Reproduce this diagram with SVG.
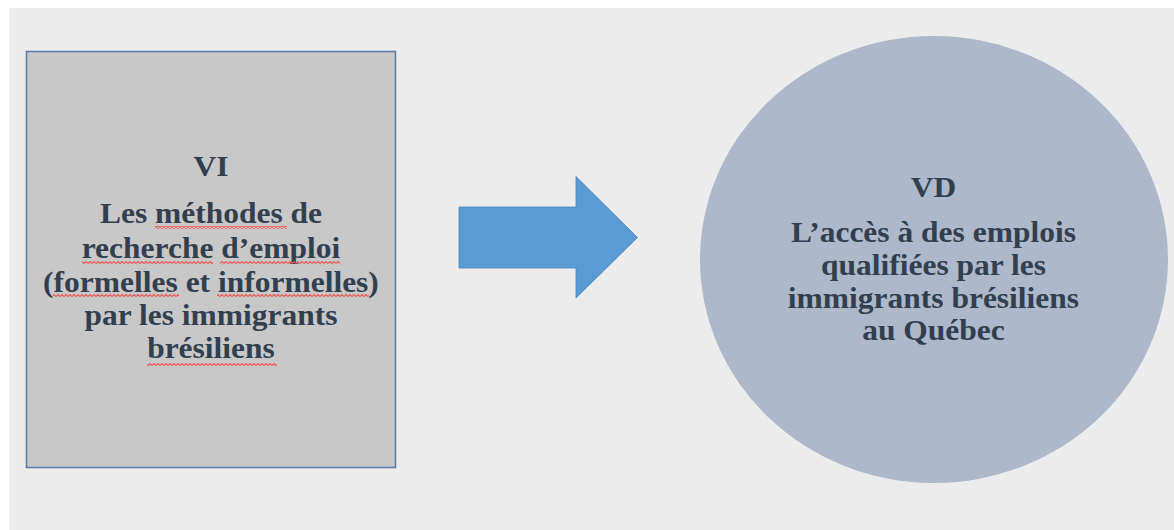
<svg xmlns="http://www.w3.org/2000/svg" width="1174" height="530" viewBox="0 0 1174 530">
  <defs>
    <style>
      .lbl { font-family: "Liberation Serif", "Times New Roman", serif; font-weight: bold; font-size: 30px; fill: #323f4f; text-anchor: middle; }
      .squig { fill: url(#wave); }
    </style>
    <pattern id="wave" x="0" y="0" width="4" height="3" patternUnits="userSpaceOnUse">
      <path d="M0,2.5 L2,0.5 L4,2.5" fill="none" stroke="#ee5555" stroke-width="1.1"/>
    </pattern>
  </defs>
  <rect x="0" y="0" width="1174" height="530" fill="#ffffff"/>
  <rect x="9" y="8" width="1165" height="522" fill="#ececec"/>

  <g id="node-vi">
    <rect x="26.5" y="51.5" width="369" height="416" fill="#c8c8c8" stroke="#5b7fa8" stroke-width="1.6"/>
    <g transform="translate(211,0) scale(1.05,1) translate(-211,0)">
      <text class="lbl" x="211" y="176">VI</text>
      <text class="lbl" x="211" y="223">Les méthodes de</text>
      <text class="lbl" x="211" y="258">recherche d’emploi</text>
      <text class="lbl" x="211" y="292">(formelles et informelles)</text>
      <text class="lbl" x="211" y="325">par les immigrants</text>
      <text class="lbl" x="211" y="358">brésiliens</text>
    </g>
    <rect class="squig" x="155" y="226" width="132" height="3"/>
    <rect class="squig" x="82" y="261" width="131" height="3"/>
    <rect class="squig" x="220" y="261" width="120" height="3"/>
    <rect class="squig" x="53" y="294" width="126" height="3"/>
    <rect class="squig" x="217" y="294" width="152" height="3"/>
    <rect class="squig" x="147" y="363" width="130" height="3"/>
  </g>

  <g id="connectors">
    <path d="M459,207 L576,207 L576,176.5 L637.5,237.5 L576,298 L576,268 L459,268 Z" fill="#5b9bd5" stroke="#4a83b8" stroke-width="0.8"/>
  </g>

  <g id="node-vd">
    <ellipse cx="934" cy="259.5" rx="234" ry="223.5" fill="#adb8ca"/>
    <g transform="translate(933.5,0) scale(1.05,1) translate(-933.5,0)">
      <text class="lbl" x="933.5" y="197">VD</text>
      <text class="lbl" x="933.5" y="242">L’accès à des emplois</text>
      <text class="lbl" x="933.5" y="275">qualifiées par les</text>
      <text class="lbl" x="933.5" y="308">immigrants brésiliens</text>
      <text class="lbl" x="933.5" y="340">au Québec</text>
    </g>
  </g>
</svg>
